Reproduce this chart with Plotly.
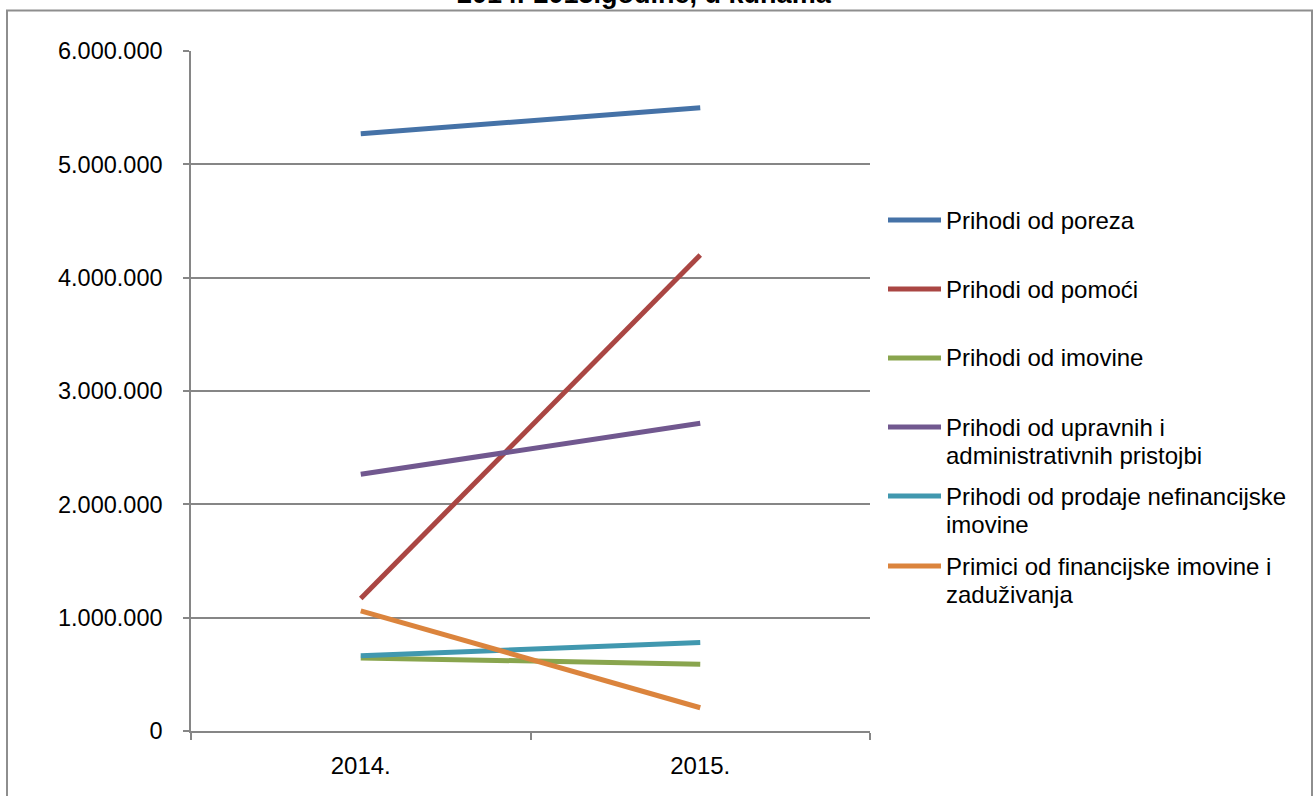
import plotly.graph_objects as go

# ---- data ----
years = ["2014.", "2015."]
series_names = [
    "Prihodi od poreza",
    "Prihodi od pomoći",
    "Prihodi od imovine",
    "Prihodi od upravnih i<br>administrativnih pristojbi",
    "Prihodi od prodaje nefinancijske<br>imovine",
    "Primici od financijske imovine i<br>zaduživanja",
]
poreza = [5270000, 5500000]
pomoci = [1170000, 4200000]
imovine = [645000, 590000]
upravnih = [2265000, 2715000]
prodaje = [665000, 780000]
primici = [1060000, 205000]
series_values = [poreza, pomoci, imovine, upravnih, prodaje, primici]
colors = ["#4572A7", "#AA4643", "#89A54E", "#71588F", "#4198AF", "#DB843D"]

y_tickvals = [0, 1000000, 2000000, 3000000, 4000000, 5000000, 6000000]
y_ticktext = ["0", "1.000.000", "2.000.000", "3.000.000", "4.000.000", "5.000.000", "6.000.000"]
title_text = "2014.-2015.godine, u kunama"

# ---- layout geometry (pixels) ----
W, H = 1315, 796
L, R, T, B = 191, 870, 51, 731
FONT = "Liberation Sans, Arial, sans-serif"


def px_x(px):
    return (px - L) / (R - L)


def px_y(py):
    return (B - py) / (B - T)


fig = go.Figure()
for name, vals, col in zip(series_names, series_values, colors):
    fig.add_trace(go.Scatter(
        x=years, y=vals, mode="lines", name=name.replace("<br>", " "),
        line=dict(color=col, width=5), showlegend=False,
    ))

shapes = []
annotations = []

# outer chart frame
shapes.append(dict(type="rect", xref="paper", yref="paper",
                   x0=px_x(7), x1=px_x(1312), y0=px_y(805), y1=px_y(10.5),
                   line=dict(color="#8E8E8E", width=2), fillcolor="rgba(0,0,0,0)", layer="below"))

# manual legend
legend_rows_y = [220, 289, 358, 427, 496, 566]
line_gap = 28
for name, col, ly in zip(series_names, colors, legend_rows_y):
    shapes.append(dict(type="line", xref="paper", yref="paper",
                       x0=px_x(888), x1=px_x(941), y0=px_y(ly), y1=px_y(ly),
                       line=dict(color=col, width=5)))
    for i, part in enumerate(name.split("<br>")):
        annotations.append(dict(
            xref="paper", yref="paper", x=px_x(945), y=px_y(ly + i * line_gap),
            xanchor="left", yanchor="middle", text=part, showarrow=False,
            font=dict(family=FONT, size=24, color="#000000"), borderpad=0,
        ))

# clipped title
annotations.append(dict(
    xref="paper", yref="paper", x=px_x(644), y=px_y(10.5), xanchor="center", yanchor="bottom",
    text="<b>" + title_text + "</b>", showarrow=False,
    font=dict(family=FONT, size=27, color="#000000"), borderpad=0,
))

fig.update_layout(
    width=W, height=H,
    margin=dict(l=L, r=W - R, t=T, b=H - B, pad=0),
    paper_bgcolor="white", plot_bgcolor="white",
    shapes=shapes, annotations=annotations,
    font=dict(family=FONT, size=23, color="#000000"),
    xaxis=dict(
        type="category", tickson="boundaries", ticks="outside", ticklen=7,
        tickcolor="#868686", tickwidth=1.5, showgrid=False,
        showline=True, linecolor="#868686", linewidth=1.5,
        tickfont=dict(family=FONT, size=24, color="#000000"),
        ticklabelstandoff=12, range=[-0.5, 1.5],
    ),
    yaxis=dict(
        range=[0, 6000000], tickvals=y_tickvals, ticktext=y_ticktext,
        ticks="outside", ticklen=6, tickcolor="#868686", tickwidth=1.5,
        showgrid=True, gridcolor="#868686", gridwidth=1.5,
        showline=True, linecolor="#868686", linewidth=1.5, zeroline=False,
        tickfont=dict(family=FONT, size=23.5, color="#000000"),
        ticklabelstandoff=16,
    ),
)

fig.write_html(
    "out.html",
    config={"displayModeBar": False},
    post_script="document.body.style.margin='0';document.body.style.overflow='hidden';",
)
